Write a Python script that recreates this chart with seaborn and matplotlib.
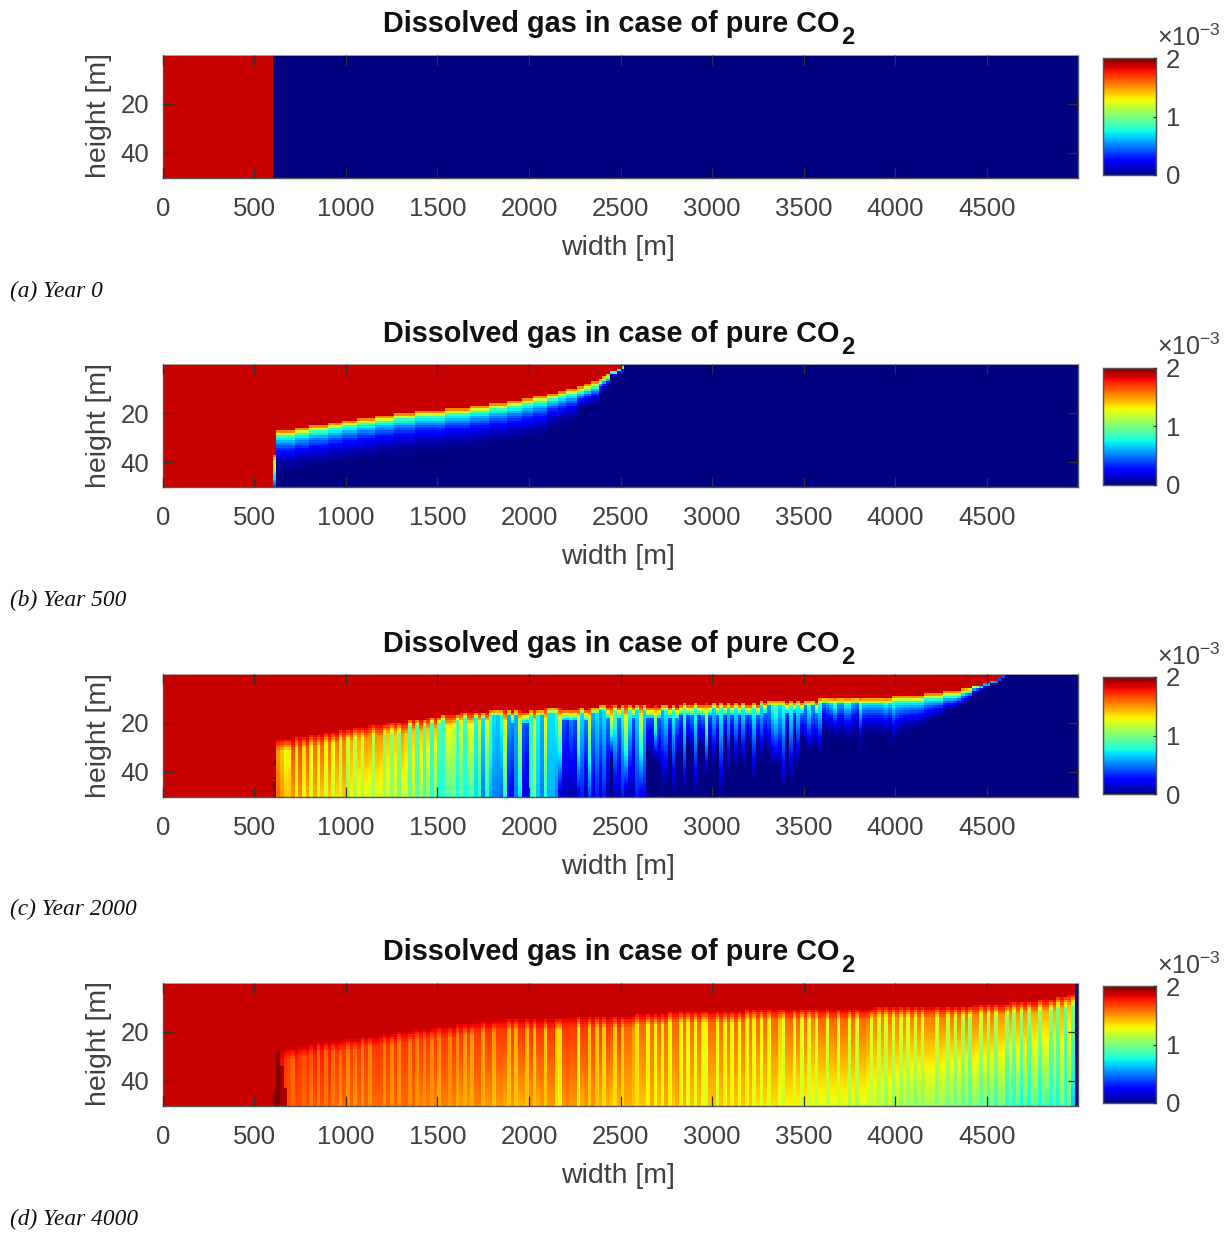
import numpy as np
import matplotlib
matplotlib.use("Agg")
import matplotlib.pyplot as plt
import seaborn as sns

sns.set_style("white")
plt.rcParams['font.family'] = ['Liberation Sans', 'DejaVu Sans']
plt.rcParams['mathtext.fontset'] = 'custom'
plt.rcParams['mathtext.rm'] = 'Liberation Sans'
plt.rcParams['mathtext.bf'] = 'Liberation Sans:bold'

TITLE = 'Dissolved gas in case of pure CO'
TITLE_SUB = '2'
CAPTIONS = ['(a) Year 0', '(b) Year 500', '(c) Year 2000', '(d) Year 4000']
X_TICKS = [0, 500, 1000, 1500, 2000, 2500, 3000, 3500, 4000, 4500]
Y_TICKS = [20, 40]
CBAR_TICKS = [0, 1, 2]
DX, DZ = 20, 1
NCOL, NROW = 250, 50
SAT = 18.7   # saturated zone, in 1e-4 units

# ---- panel a: one front column
a_values, a_runs = [SAT, 0.0], [30, 220]

# ---- panel b: front depth (rows) from column 31
b_levels = [27,26,25,24,23,22,21,20,19,18,17,16,15,14,13,12,11,10,9,8,7,6,5,4,3,2,1]
b_runs   = [5,4,5,4,4,5,5,6,8,7,5,5,4,3,4,3,2,3,2,2,2,1,1,1,2,1,1]
b_depth_levels = [22,18,13,8,4]
b_depth_runs   = [74,8,6,3,4]
b_upper_levels = [8.5,8.5,8.5,7,5]
b_col30_start = 37
b_col30 = [16,14,13,12,12,11,10,8,7,7,6,5,4]

# ---- panel c: from column 31
c_levels = [27,26,25,24,23,22,21,20,19,18,17,16,15,14,13,12,11,10,9,8,7,6,5,4,3,2,1]
c_runs   = [5,4,4,4,4,4,5,6,5,4,5,8,15,15,22,22,16,20,9,5,5,3,3,2,2,1,1]
c_upper = [15,14,12.5,13,16.5,13,16.5,13.5,16.5,13,
           16,13,16,13,16,13,15.5,12,15.5,12,
           14.5,12,14.5,12,15,15,11.5,15,15,10,
           14,10.5,14,10,15,14,9.5,14,9,14,
           9,14,8.5,14,9,8.5,13,13,12,9,
           12,8.5,13,13,7.5,12,7,12,9,7,
           6.5,8,13,6,5,6,12,4.5,4,8,
           13,7.5,6,13,7,7,8,12,4,3.5,
           5,4,12,7,5,12,6,7,6,7,
           5,13,9,5,8,13,8,4,7,12,
           7,4,4,11,4.5,6,7.5,4,8,5,
           4,9,4,5,8.5,4,5,11,4,7,
           4.5,8,4,7,4,7.5,4,7.5,4,4.5,
           8,4.5,7,4.5,5.5,8,9,7,8,4,
           8,4,7.5,5,5.5,8,5.5,5,8,5,
           6,7,9,6,6,8,8,6,5,9,
           7,7,7,7,7,7,8,7,9,8,
           8,8,8,8,8,8,8,8,8,8,
           8,8,8,8,8,8,8,8,8,8,
           7,7,7,6,6,6,5,4,4]
c_lower = [16,15,14,14,15,13,15,13,14.5,12.5,
           14.5,12,14,12,14,12,13.5,11.5,14,11,
           13,11,12.5,11,12.5,12,11,12.5,12,11,
           12,10.5,12,10,12,12,9.5,11.5,9,11,
           8.5,10.5,8,10,7.5,8,9,9,9.5,7.5,
           9,7.5,8,9,7,8,5,8,6,5,
           5,4.5,8,2.5,2,5,7,2,1.5,8,
           10,6.5,5,8,6,6,5,1.5,1,1,
           .5,1,2,3,1,4,1.5,3,1,3,
           .5,0,1,1,3,1,1,1,3,2,
           2.5,0,0,0,0,.5,0,0,0,0]
c_reach = [50]*90 + [50,36,50,50,50,50,46,50,50,50,
           50,34,34,36,40,45,46,34,50,36,
           32,50,30,32,50,30,30,42,30,38,
           30,50,28,42,28,38,28,38,28,30,
           44,30,36,30,34,38,38,38,48,28,
           44,26,38,26,30,32,30,30,33,27,
           28,28,30,28,28,30,30,28,28,36,
           28,27,27,27,27,28,28,27,32,29,
           27,26,26,25,25,24,24,23,22,21,
           20,19,18,17,17,16,15,14,13,12,
           10,9,8,7,6,5,5,4,3]
c_dark = [(30,35,37,20.0),(30,42,43,20.0),(30,44,50,20.0)]

# ---- panel d: from column 31
d_levels = [27,26,25,24,23,22,21,20,19,18,17,16,15,14,13,12,11,10,9,8,7,6,5]
d_runs   = [6,3,2,7,5,5,5,4,6,6,5,6,18,20,9,21,35,27,10,8,5,3,2]
d_upper = [18.7,18,17,16.5,16,17.5,17,16.5,17,16.5,
           17.5,16,17.5,16,17.5,16,17,16,17,15.5,
           17,16,17,15.5,17,15.5,17,17,17,15.5,
           17,15.5,17,15.5,17,17,15.5,17,15.5,17,
           15.5,17,15.5,17,15.5,17,17,15.5,17,15.5,
           17,15,17,15,17,17,15,17,17,15,
           17,17,17,14.5,17,14.5,17,17,14.5,17,
           14,17,17,14,17,17,14,13.5,17,17,
           17,17,13,17,17,14,17,14,17,14,
           17,16.5,14,17,14,16,16,15,13.5,16,
           16,13,16,13,16,13,16,13,16,16,
           13,16,13,16,13,16,13,13,16,16,
           13,16,13,16,13,16,13,16,13,16,
           13,16,13,16,13,16,16,14,12.5,16,
           16,12.5,16,12.5,16,12.5,15.5,12.5,16,16,
           12.5,16,16,12.5,16,16,12.5,16,12.5,16,
           16,15.5,12.5,15.5,12.5,15.5,12.5,15.5,12.5,15.5,
           12.5,15.5,12.5,15.5,12.5,15.5,12.5,15.5,15.5,15.5,
           12.5,15.5,15.5,12,15.5,12,15.5,11.5,15.5,11,
           15.5,15.5,12,15.5,11.5,15.5,11.5,15,15,11,
           15,11,15,11,15,10.5,14.5,14.5,11,14.5,
           14.5,10.5,14.5,10,14.5,9.5,14,10]
d_lower = [18.7,18,17,16.5,16,16.5,16.5,16,16.5,15.5,
           16.5,15.5,16.5,15.5,16.5,15.5,16,15,16,15,
           16,15,16,15,16,15,16,16,16,15,
           16,15,16,15,16,16,15,16,15,15.5,
           15,15.5,15,15.5,14.5,15.5,15.5,15,15.5,14.5,
           15,14.5,15,14.5,15.5,15.5,14.5,15,15,14,
           15,15,14.5,14,15,14,14.5,14.5,14,15,
           14,14.5,15,14,15,15,13.5,13,15,15.5,
           15,15,13,14.5,15,14,15,14,14.5,13.5,
           14.5,14,13.5,14.5,13.5,14.5,14.5,14,13.5,14,
           14,13,14.5,13,14,13,14.5,13,14,14.5,
           13,14.5,12.5,14,12.5,14,12.5,12.5,14,14,
           12.5,14,13,14,13,14,12.5,14,13,14,
           12.5,13.5,12.5,13.5,12.5,13.5,13.5,12.5,12,13,
           13,12,13,12,13,12,12.5,11.5,12.5,12.5,
           11.5,12.5,12.5,11.5,12.5,12.5,11,12.5,11,12.5,
           12.5,12,11.5,12,11,12,10.5,12,10.5,11.5,
           10.5,11.5,10.5,11,10,11,10,11,11,11,
           10,11,10.5,10,10.5,9.5,10.5,9.5,10.5,9,
           10.5,10,9,10,8.5,10,8.5,10,10,8,
           9.5,8,9.5,7.5,9.5,7.5,9.5,9.5,7.5,9,
           9,7.5,9.5,7.5,10,8,9.5,6.5]
d_dark = [(30,44,50,20.0),(31,28,50,20.0),(32,34,50,19.3),(33,43,50,19.1)]


def profile(front, upper, lower, reach, power, trans):
    """One column of cells, from the values read for it."""
    col = np.zeros(NROW)
    trans = min(trans, max(1.0, (reach - front) / 3.0))
    for i in range(NROW):
        if i < front:
            col[i] = SAT
        elif i - front + 1 < trans:
            col[i] = SAT + (upper - SAT) * (i - front + 1) / trans
        else:
            span = max(1.0, reach - front - trans)
            frac = min(1.0, (i - front - trans + 1) / span)
            col[i] = lower + (upper - lower) * (1 - frac) ** power
    return col


def base():
    g = np.zeros((NROW, NCOL))
    g[:, :31] = SAT
    return g


def panel_a():
    return np.tile(np.repeat(a_values, a_runs), (NROW, 1))


def panel_b():
    g = base()
    fr = np.repeat(b_levels, b_runs)
    dp = np.repeat(b_depth_levels, b_depth_runs)
    up = np.repeat(b_upper_levels, b_depth_runs)
    for k, (f, d, u) in enumerate(zip(fr, dp, up)):
        g[:, 31 + k] = profile(f, u, 0.0, f + d, 3, 3.0)
    for k, v in enumerate(b_col30):
        g[b_col30_start + k, 30] = v
    return g


def panel_c():
    g = base()
    fr = np.repeat(c_levels, c_runs)
    low = c_lower + [0.0] * (len(c_upper) - len(c_lower))
    for k, (f, u, l, r) in enumerate(zip(fr, c_upper, low, c_reach)):
        c = 31 + k
        if c >= 180:
            g[:, c] = profile(f, u, l, r, 2.0, 3.0)
        else:
            front = f + 1 if u <= 5 else f      # gaps sit lower than finger tips
            trans = 5.0 if (u >= 10 or u <= 5) else 3.0
            g[:, c] = profile(front, u, l, r, 1.0, trans)
    for c, z0, z1, v in c_dark:
        g[z0:z1, c] = v
    return g


def panel_d():
    g = base()
    fr = np.repeat(d_levels, d_runs)
    for k, (f, u, l) in enumerate(zip(fr, d_upper, d_lower)):
        g[:, 31 + k] = profile(f, u, l, 50, 1.0, 5.0)
    for c, z0, z1, v in d_dark:
        g[z0:z1, c] = v
    return g


W, H = 1227, 1234
fig = plt.figure(figsize=(W / 100, H / 100), dpi=100, facecolor='white')
TOPS = [54.5, 364, 673.5, 982.5]
CAPY = [291, 600, 909, 1219]
TXT = '#404040'
grids = [panel_a(), panel_b(), panel_c(), panel_d()]

for top, capy, grid, cap in zip(TOPS, CAPY, grids, CAPTIONS):
    ax = fig.add_axes([162.8 / W, 1 - (top + 123) / H, 915.5 / W, 123 / H])
    cax = fig.add_axes([1103 / W, 1 - (top + 120.5) / H, 53 / W, 117 / H])
    sns.heatmap(grid * 1e-4, ax=ax, cbar_ax=cax, cmap='jet', vmin=0, vmax=2e-3,
                xticklabels=False, yticklabels=False,
                cbar_kws={'ticks': [t * 1e-3 for t in CBAR_TICKS]})
    ax.set_axisbelow(False)
    ax.set_xticks([v / DX for v in X_TICKS])
    ax.set_xticklabels([str(v) for v in X_TICKS])
    ax.set_yticks([v / DZ for v in Y_TICKS])
    ax.set_yticklabels([str(v) for v in Y_TICKS], rotation=0)
    ax.tick_params(axis='x', direction='in', length=7, width=0.9, color='#303030',
                   top=True, bottom=True, labelsize=18.5, labelcolor=TXT, pad=14)
    ax.tick_params(axis='y', direction='in', length=7, width=0.9, color='#303030',
                   left=True, right=True, labelsize=18.5, labelcolor=TXT, pad=9.5)
    for name, sp in ax.spines.items():
        sp.set_visible(True)
        sp.set_color('#555555')
        sp.set_linewidth(1.0)
    ax.spines['top'].set_color('#b8b8b8')
    ax.spines['top'].set_linewidth(0.6)
    ax.set_xlabel('width [m]', fontsize=20.5, color=TXT)
    ax.set_ylabel('height [m]', fontsize=20.5, color=TXT)
    ax.xaxis.set_label_coords(0.497, -0.465)
    ax.yaxis.set_label_coords(-0.056, 0.5)

    cax.set_axisbelow(False)
    cax.set_yticklabels([str(t) for t in CBAR_TICKS])
    cax.tick_params(axis='y', direction='in', length=2, width=0.8, color='#303030',
                    right=True, labelsize=18.5, labelcolor=TXT, pad=7)
    for sp in cax.spines.values():
        sp.set_visible(True)
        sp.set_color('#555555')
        sp.set_linewidth(0.9)

    fig.text(383 / W, 1 - (top - 22) / H, TITLE, fontsize=20.8, fontweight='bold',
             ha='left', va='baseline', color='#111111')
    fig.text(841 / W, 1 - (top - 10) / H, TITLE_SUB, fontsize=17, fontweight='bold',
             ha='left', va='baseline', color='#111111')
    fig.text(1157 / W, 1 - (top - 9) / H, r'$\times\mathrm{10}^{\mathrm{-3}}$',
             fontsize=18, ha='left', va='baseline', color=TXT)
    fig.text(10 / W, 1 - capy / H, cap, fontsize=16.8, style='italic',
             family='Liberation Serif', ha='left', va='center', color='#111111')

fig.savefig('out.png', dpi=100, facecolor='white')
